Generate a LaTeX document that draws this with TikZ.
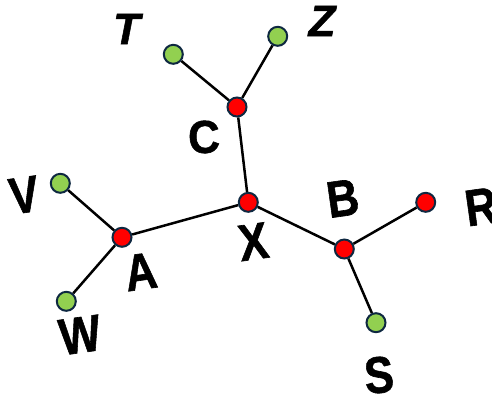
\documentclass[tikz,border=0pt]{standalone}
\usepackage{fontspec}
\setmainfont{Liberation Sans}
\newfontfamily\lblfont{Liberation Sans}[BoldFeatures={FakeBold=1.2},ItalicFeatures={},BoldItalicFeatures={FakeBold=1.2}]
\definecolor{nodeborder}{HTML}{0E2841}
\definecolor{leafgreen}{HTML}{92D050}
\newcommand{\tallsc}[1]{\scalebox{1}[1.17]{#1}}
\begin{document}
\begin{tikzpicture}[x=1bp,y=-1bp,
  inner/.style={circle,draw=nodeborder,line width=2bp,fill=red,minimum size=19bp,inner sep=0pt},
  leaf/.style={circle,draw=nodeborder,line width=2bp,fill=leafgreen,minimum size=19bp,inner sep=0pt},
  edge/.style={line width=2.5bp,black},
  lbl/.style={font=\lblfont\fontsize{44bp}{44bp}\selectfont\bfseries,inner sep=0pt,rotate=8},
  ilbl/.style={font=\lblfont\fontsize{44bp}{44bp}\selectfont\bfseries\itshape,inner sep=0pt}]
\useasboundingbox (0,0) rectangle (492,399);
\node[leaf] (T) at (173.3,54.3) {};
\node[leaf] (Z) at (277.7,36.3) {};
\node[inner] (C) at (237,107) {};
\node[inner] (X) at (248.3,202.3) {};
\node[inner] (A) at (122,237.3) {};
\node[leaf] (V) at (60.3,183.3) {};
\node[leaf] (W) at (66.3,301.3) {};
\node[inner] (B) at (344.3,249) {};
\node[inner] (R) at (425.7,202.3) {};
\node[leaf] (S) at (376,322.7) {};
\draw[edge] (T) -- (C);
\draw[edge] (Z) -- (C);
\draw[edge] (C) -- (X);
\draw[edge] (X) -- (A);
\draw[edge] (A) -- (V);
\draw[edge] (A) -- (W);
\draw[edge] (X) -- (B);
\draw[edge] (B) -- (R);
\draw[edge] (B) -- (S);
\node[ilbl] (lT) at (126.5,29) {T};
\node[ilbl] (lZ) at (322,21) {Z};
\node[lbl,rotate=-6] (lC) at (204,137) {\scalebox{1}[1.05]{C}};
\node[lbl] (lV) at (24,195) {\tallsc{V}};
\node[lbl] (lA) at (140.7,271.7) {\tallsc{A}};
\node[lbl] (lX) at (253.3,241.7) {\tallsc{X}};
\node[lbl] (lW) at (80,335) {\tallsc{W}};
\node[lbl] (lB) at (342.7,198.3) {\tallsc{B}};
\node[lbl] (lR) at (481,206.7) {\tallsc{R}};
\node[lbl,rotate=-3] (lS) at (379,375) {\tallsc{S}};
\end{tikzpicture}
\end{document}
